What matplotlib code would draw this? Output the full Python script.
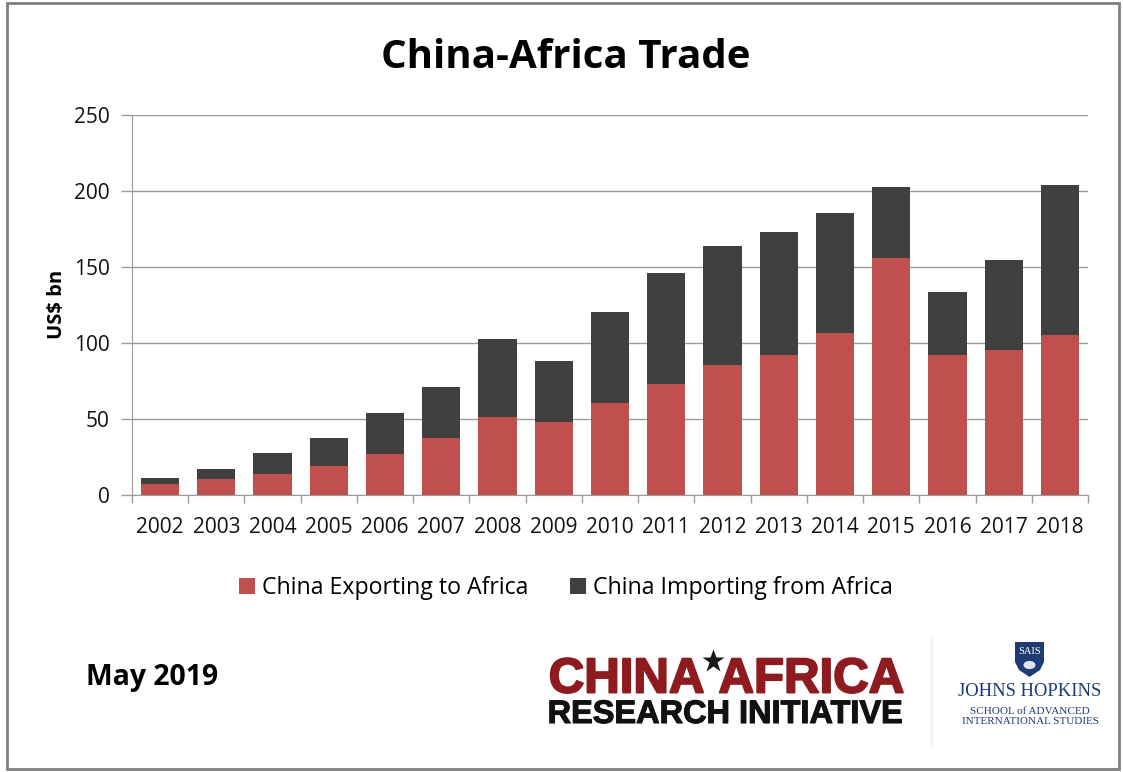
"""China-Africa trade chart."""

import matplotlib

matplotlib.use("Agg")
import matplotlib.patheffects as pe
import matplotlib.pyplot as plt
from matplotlib.patches import Circle, Polygon, Rectangle

YEARS = [str(y) for y in range(2002, 2019)]
EXPORTS = [7, 10.5, 13.5, 19, 26.5, 37.5, 51, 47.5, 60, 73, 85, 92, 106, 155.5, 92, 95, 105]
IMPORTS = [4, 6.5, 13.5, 18.5, 27, 33.5, 51, 40.5, 60, 73, 78.5, 81, 79, 47, 41.5, 59.5, 98.5]
Y_TICKS = [0, 50, 100, 150, 200, 250]

RED = "#C0504D"
DARK = "#404040"
LOGO_RED = "#8E1B20"
NAVY = "#1F3B73"
GRID = "#9C9C9C"
W, H = 1123, 772

plt.rcParams["font.family"] = ["Open Sans", "DejaVu Sans"]


def fx(px):
    return px / W


def fy(px):
    return 1 - px / H


fig = plt.figure(figsize=(W / 100, H / 100), dpi=100)
axis = fig.add_axes([fx(132), fy(494.5), (1088 - 132) / W, 380 / H])

# Bars
positions = range(len(YEARS))
axis.bar(positions, EXPORTS, width=0.68, color=RED, label="China Exporting to Africa", zorder=3)
axis.bar(positions, IMPORTS, width=0.68, bottom=EXPORTS, color=DARK, label="China Importing from Africa", zorder=3)

# Prettifying
axis.set_xlim(-0.5, len(YEARS) - 0.5)
axis.set_ylim(0, 250)
axis.set_yticks(Y_TICKS)
axis.set_xticks([p - 0.5 for p in range(len(YEARS) + 1)], minor=False)
axis.set_xticklabels([])
axis.set_xticks(list(positions), labels=YEARS, minor=True)
axis.tick_params(axis="x", which="major", length=6, color=GRID, width=1, direction="out")
axis.tick_params(axis="x", which="minor", length=0, labelsize=15, pad=16.5, labelcolor="#111111")
axis.tick_params(axis="y", length=8, color=GRID, width=1, labelsize=15, pad=8, labelcolor="#111111")
axis.grid(axis="y", color=GRID, linewidth=1, zorder=0)
for side in ("top", "right"):
    axis.spines[side].set_visible(False)
for side in ("left", "bottom"):
    axis.spines[side].set_color(GRID)
axis.set_ylabel("US$ bn", fontsize=14.5, fontweight="bold", labelpad=5)

fig.text(fx(566), fy(58), "China-Africa Trade", fontsize=29, fontweight="bold", ha="center", va="center")
fig.legend(loc="center", bbox_to_anchor=(fx(566), fy(588)), ncol=2, frameon=False,
           fontsize=16.7, handlelength=0.68, handleheight=0.68, handletextpad=0.3, columnspacing=1.8)
fig.text(fx(86), fy(678), "May 2019", fontsize=20.4, fontweight="bold", va="center")

# China Africa logo
heavy = [pe.withStroke(linewidth=1.4, foreground=LOGO_RED)]
fig.text(fx(704), fy(680), "CHINA", fontsize=35.4, fontweight="bold", color=LOGO_RED, ha="right", va="center",
         family=["Liberation Sans"], path_effects=heavy)
fig.text(fx(904), fy(680), "AFRICA", fontsize=35.4, fontweight="bold", color=LOGO_RED, ha="right", va="center",
         family=["Liberation Sans"], path_effects=heavy)
fig.add_artist(plt.Line2D([fx(712.5)], [fy(661)], marker="*", markersize=17, markerfacecolor="#1A1A1A",
                          markeredgecolor="none", linestyle="none"))
fig.text(fx(725), fy(715), "RESEARCH INITIATIVE", fontsize=23.4, fontweight="bold", color="#111111",
         ha="center", va="center", family=["Liberation Sans"],
         path_effects=[pe.withStroke(linewidth=0.8, foreground="#111111")])
fig.add_artist(plt.Line2D([fx(931), fx(931)], [fy(745), fy(636)], color="#ECECEC", linewidth=1))

# Johns Hopkins logo
fig.text(fx(1030), fy(692), "JOHNS HOPKINS", fontsize=13.4, color=NAVY, ha="center", va="center",
         family=["Liberation Serif"])
fig.text(fx(1030), fy(711), "SCHOOL of ADVANCED", fontsize=8, color=NAVY, ha="center", va="center",
         family=["Liberation Serif"])
fig.text(fx(1030), fy(721), "INTERNATIONAL STUDIES", fontsize=8, color=NAVY, ha="center", va="center",
         family=["Liberation Serif"])
shield = [(1015, 642), (1044, 642), (1044, 662), (1040, 670), (1029.5, 677), (1019, 670), (1015, 662)]
fig.add_artist(Polygon([(fx(x), fy(y)) for x, y in shield], closed=True, transform=fig.transFigure,
                       facecolor=NAVY, edgecolor="none"))
fig.add_artist(Circle((fx(1029.5), fy(665)), 6 / W, transform=fig.transFigure, facecolor="#DDE3EF",
                      edgecolor="none"))
fig.text(fx(1029.5), fy(651), "SAIS", fontsize=7.5, color="white", ha="center", va="center",
         family=["Liberation Serif"])

# Slide border
fig.add_artist(Rectangle((fx(7), fy(769)), (1119 - 7) / W, (769 - 3) / H, transform=fig.transFigure,
                         fill=False, edgecolor="#7F7F7F", linewidth=2))

fig.savefig("out.png", dpi=100)
